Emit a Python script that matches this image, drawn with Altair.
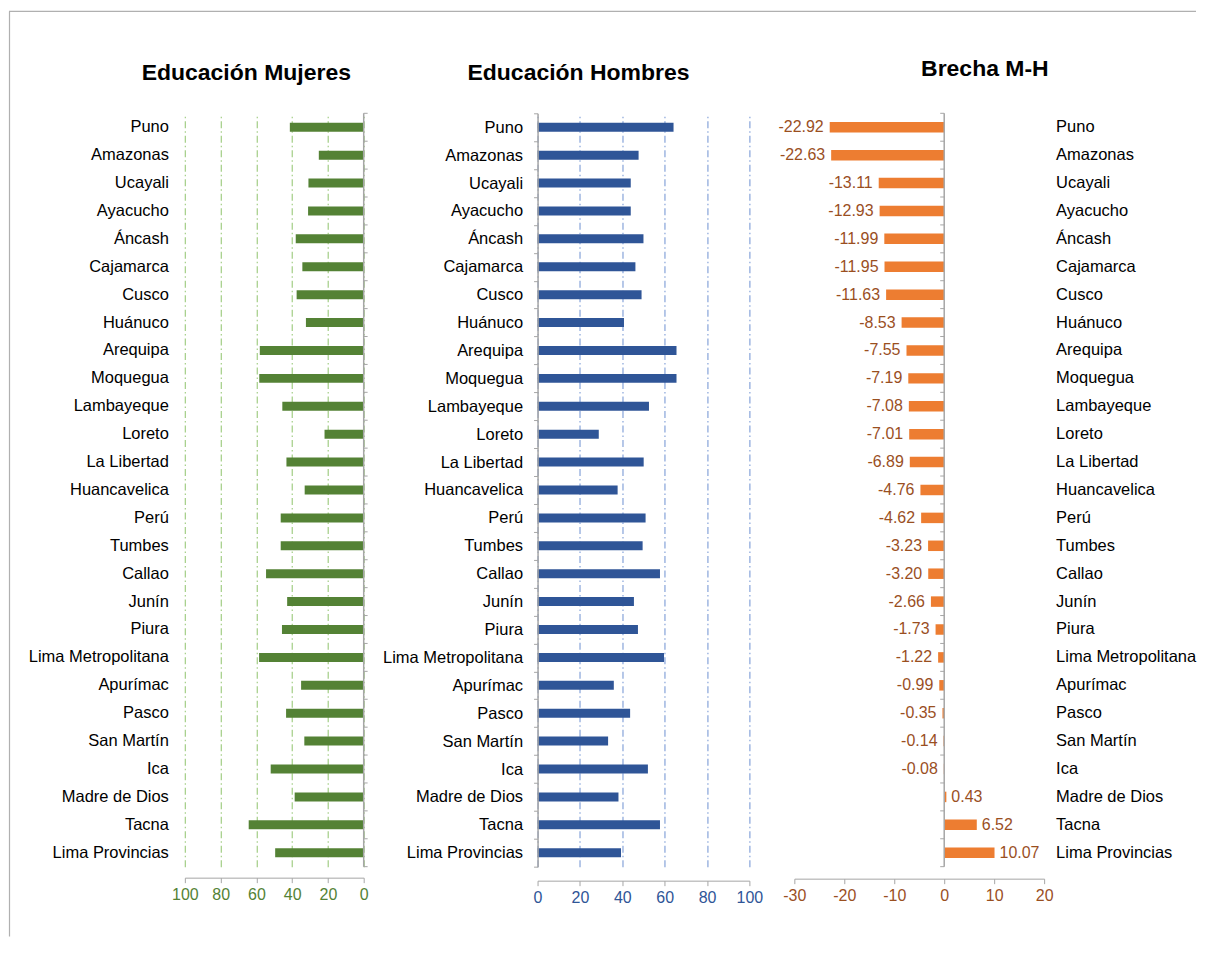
import altair as alt
import pandas as pd

regions = ["Puno", "Amazonas", "Ucayali", "Ayacucho", "Áncash", "Cajamarca", "Cusco",
           "Huánuco", "Arequipa", "Moquegua", "Lambayeque", "Loreto", "La Libertad",
           "Huancavelica", "Perú", "Tumbes", "Callao", "Junín", "Piura",
           "Lima Metropolitana", "Apurímac", "Pasco", "San Martín", "Ica",
           "Madre de Dios", "Tacna", "Lima Provincias"]
mujeres = [41.3, 25.1, 30.9, 31.1, 38.0, 34.3, 37.5, 32.3, 58.1, 58.4, 45.5, 21.9, 43.2,
           33.0, 46.4, 46.4, 54.6, 42.8, 45.7, 58.5, 35.0, 43.4, 33.2, 52.0, 38.6, 64.3, 49.5]
hombres = [64.2, 47.7, 44.0, 44.0, 50.0, 46.2, 49.1, 40.8, 65.6, 65.6, 52.6, 28.9, 50.1,
           37.8, 51.0, 49.6, 57.8, 45.5, 47.4, 59.7, 36.0, 43.7, 33.3, 52.1, 38.2, 57.8, 39.4]
brecha = [-22.92, -22.63, -13.11, -12.93, -11.99, -11.95, -11.63, -8.53, -7.55, -7.19,
          -7.08, -7.01, -6.89, -4.76, -4.62, -3.23, -3.20, -2.66, -1.73, -1.22, -0.99,
          -0.35, -0.14, -0.08, 0.43, 6.52, 10.07]
titles = ["Educación Mujeres", "Educación Hombres", "Brecha M-H"]
ticks_pct = [0, 20, 40, 60, 80, 100]
ticks_gap = [-30, -20, -10, 0, 10, 20]

df = pd.DataFrame({"region": regions, "mujeres": mujeres, "hombres": hombres, "brecha": brecha})

FONT = "Liberation Sans"
H = 754
W1, R1 = 308, 179
W2 = 212
W3 = 250
GRAY = "#a6a6a6"
GREEN, GREEN_GRID = "#548235", "#a9d18e"
BLUE, BLUE_GRID = "#2f5597", "#8faadc"
ORANGE, BROWN = "#ed7d31", "#9a4f1f"
CAT_FS = 16.5
HYPHEN_EXPR = "replace(datum.label, '\u2212', '-')"

yscale = alt.Scale(paddingInner=0, paddingOuter=0)


def ynoaxis(**kw):
    return alt.Y("region:N", sort=regions, scale=yscale, axis=None, **kw)


def title_layer(text, x, y):
    return alt.Chart(pd.DataFrame({"t": [text]})).mark_text(
        align="center", baseline="alphabetic", fontSize=23, fontWeight="bold",
        color="black", font=FONT
    ).encode(x=alt.value(x), y=alt.value(y), text="t:N")


def zero_axis(tick_to):
    """Vertical axis line at x=0 of the value scale, with ticks at band edges."""
    line = alt.Chart(one).mark_rule(color=GRAY, strokeWidth=1.5).encode(
        x=alt.datum(0), y=alt.value(0), y2=alt.value(H))
    ticks = alt.Chart(df).mark_rule(color=GRAY, strokeWidth=1).encode(
        x=alt.datum(0), x2=alt.datum(tick_to), y=ynoaxis(bandPosition=0))
    last = alt.Chart(one).mark_rule(color=GRAY, strokeWidth=1).encode(
        x=alt.datum(0), x2=alt.datum(tick_to), y=alt.value(H))
    return [line, ticks, last]


one = pd.DataFrame({"a": [0]})

# ---------- Panel 1: Mujeres ----------
bars1 = alt.Chart(df).mark_bar(size=9, color=GREEN).encode(
    x=alt.X("mujeres:Q", scale=alt.Scale(domain=[0, 100], range=[R1, 0]),
            axis=alt.Axis(values=ticks_pct, grid=True, gridColor=GREEN_GRID,
                          gridDash=[7, 3, 1.5, 3], gridWidth=1.3, domainColor=GRAY,
                          tickColor=GRAY, tickSize=5, labelColor=GREEN, labelFontSize=16,
                          labelPadding=4, offset=11, title=None, labelFlush=False)),
    y=ynoaxis(),
)
labels1 = alt.Chart(df).mark_text(align="right", baseline="middle", fontSize=CAT_FS,
                                  color="black", font=FONT).encode(
    y=ynoaxis(), x=alt.value(-16), text="region:N")
frame_left = alt.Chart(one).mark_rule(color="#b0b0b0", strokeWidth=1.2).encode(
    x=alt.value(-175.5), y=alt.value(-102), y2=alt.value(824))
frame_top = alt.Chart(one).mark_rule(color="#b0b0b0", strokeWidth=1.2).encode(
    x=alt.value(-176), x2=alt.value(1012), y=alt.value(-102))
p1 = alt.layer(bars1, *zero_axis(-2.2), labels1, title_layer(titles[0], 61.5, -33.7),
               frame_left, frame_top).properties(width=W1, height=H)

# ---------- Panel 2: Hombres ----------
bars2 = alt.Chart(df).mark_bar(size=9, color=BLUE).encode(
    x=alt.X("hombres:Q", scale=alt.Scale(domain=[0, 100]),
            axis=alt.Axis(values=ticks_pct, grid=True, gridColor=BLUE_GRID,
                          gridDash=[7, 3, 1.5, 3], gridWidth=1.3, domainColor=GRAY,
                          tickColor=GRAY, tickSize=5, labelColor=BLUE, labelFontSize=16,
                          labelPadding=4, offset=14, title=None, labelFlush=False)),
    y=alt.Y("region:N", sort=regions, scale=yscale,
            axis=alt.Axis(orient="left", labelFontSize=CAT_FS, labelColor="black",
                          labelPadding=11, domainColor=GRAY, domainWidth=1.5,
                          tickColor=GRAY, tickSize=4, tickBand="extent", title=None,
                          grid=False, labelFont=FONT, zindex=2)),
)
p2 = alt.layer(bars2, title_layer(titles[1], 41, -33.5)).properties(width=W2, height=H)

# ---------- Panel 3: Brecha ----------
bars3 = alt.Chart(df).mark_bar(size=10.5, color=ORANGE).encode(
    x=alt.X("brecha:Q", scale=alt.Scale(domain=[-30, 20], nice=False),
            axis=alt.Axis(values=ticks_gap, grid=False, domainColor=GRAY, tickColor=GRAY,
                          tickSize=5, labelColor=BROWN, labelFontSize=16, labelPadding=4,
                          offset=12, title=None, labelFlush=False,
                          labelExpr=HYPHEN_EXPR)),
    y=ynoaxis(),
)
lbl_calc = "replace(format(datum.brecha, '.2f'), '\u2212', '-')"
neg = alt.Chart(df).transform_filter("datum.brecha < 0").transform_calculate(
    lbl=lbl_calc).mark_text(
    align="right", baseline="middle", dx=-6, fontSize=16, color=BROWN, font=FONT).encode(
    x="brecha:Q", y=ynoaxis(), text="lbl:N")
pos = alt.Chart(df).transform_filter("datum.brecha >= 0").transform_calculate(
    lbl=lbl_calc).mark_text(
    align="left", baseline="middle", dx=5, fontSize=16, color=BROWN, font=FONT).encode(
    x="brecha:Q", y=ynoaxis(), text="lbl:N")
labels3 = alt.Chart(df).mark_text(align="left", baseline="middle", fontSize=CAT_FS,
                                  color="black", font=FONT).encode(
    y=ynoaxis(), x=alt.value(262), text="region:N")
p3 = alt.layer(bars3, *zero_axis(-0.8), neg, pos, labels3,
               title_layer(titles[2], 190.7, -37.7)).properties(width=W3, height=H)

chart = alt.hconcat(p1, p2, p3, spacing=45, bounds="flush",
                    padding={"left": 0, "top": 2, "right": 0, "bottom": 0}).configure(
    font=FONT).configure_view(stroke=None).configure_axis(labelFont=FONT)

chart.save("out.html", embed_options={"renderer": "svg", "actions": False})
